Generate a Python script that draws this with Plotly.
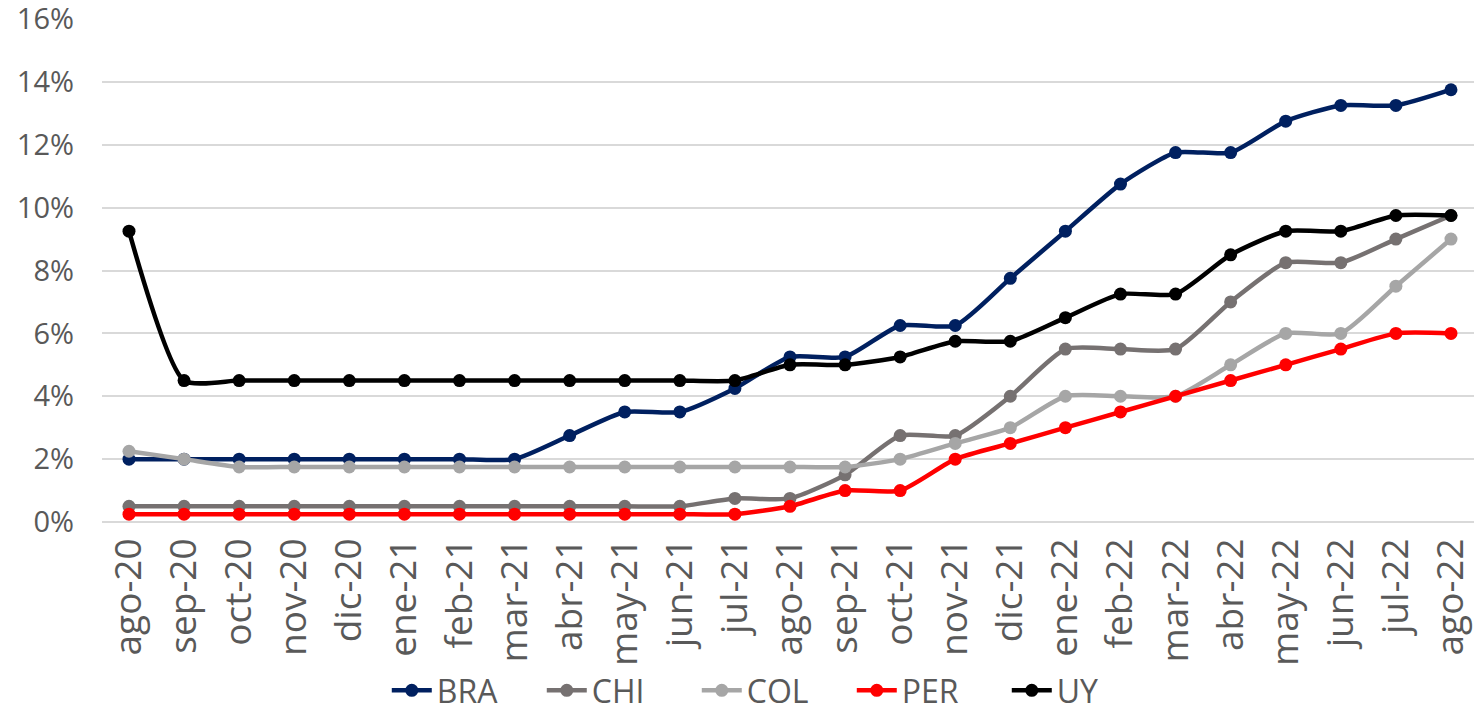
import plotly.graph_objects as go

months = ["ago-20", "sep-20", "oct-20", "nov-20", "dic-20", "ene-21", "feb-21", "mar-21",
          "abr-21", "may-21", "jun-21", "jul-21", "ago-21", "sep-21", "oct-21", "nov-21",
          "dic-21", "ene-22", "feb-22", "mar-22", "abr-22", "may-22", "jun-22", "jul-22", "ago-22"]

bra = [2.0, 2.0, 2.0, 2.0, 2.0, 2.0, 2.0, 2.0, 2.75, 3.5, 3.5, 4.25, 5.25, 5.25, 6.25, 6.25,
       7.75, 9.25, 10.75, 11.75, 11.75, 12.75, 13.25, 13.25, 13.75]
chi = [0.5, 0.5, 0.5, 0.5, 0.5, 0.5, 0.5, 0.5, 0.5, 0.5, 0.5, 0.75, 0.75, 1.5, 2.75, 2.75,
       4.0, 5.5, 5.5, 5.5, 7.0, 8.25, 8.25, 9.0, 9.75]
col = [2.25, 2.0, 1.75, 1.75, 1.75, 1.75, 1.75, 1.75, 1.75, 1.75, 1.75, 1.75, 1.75, 1.75, 2.0, 2.5,
       3.0, 4.0, 4.0, 4.0, 5.0, 6.0, 6.0, 7.5, 9.0]
per = [0.25, 0.25, 0.25, 0.25, 0.25, 0.25, 0.25, 0.25, 0.25, 0.25, 0.25, 0.25, 0.5, 1.0, 1.0, 2.0,
       2.5, 3.0, 3.5, 4.0, 4.5, 5.0, 5.5, 6.0, 6.0]
uy = [9.25, 4.5, 4.5, 4.5, 4.5, 4.5, 4.5, 4.5, 4.5, 4.5, 4.5, 4.5, 5.0, 5.0, 5.25, 5.75,
      5.75, 6.5, 7.25, 7.25, 8.5, 9.25, 9.25, 9.75, 9.75]

y_ticks = [0, 0.02, 0.04, 0.06, 0.08, 0.10, 0.12, 0.14, 0.16]

series = [
    ("BRA", bra, "#002060"),
    ("CHI", chi, "#767171"),
    ("COL", col, "#a6a6a6"),
    ("PER", per, "#ff0000"),
    ("UY", uy, "#000000"),
]

FONT = "Open Sans"
TICK_COLOR = "#595959"

fig = go.Figure()
for name, vals, color in series:
    fig.add_trace(go.Scatter(
        x=months, y=[v / 100 for v in vals], name=name, mode="lines+markers",
        line=dict(color=color, width=4.5, shape="spline", smoothing=0.6),
        marker=dict(color=color, size=13),
    ))

fig.update_layout(
    width=1474, height=718,
    paper_bgcolor="white", plot_bgcolor="white",
    margin=dict(l=102, r=0, t=19, b=196),
    font=dict(family=FONT, color=TICK_COLOR, size=30),
    # legend placed against the container so it does not push the plot margins
    legend=dict(orientation="h", xref="paper", x=0.49, xanchor="center",
                yref="container", y=0, yanchor="bottom",
                font=dict(size=32, color=TICK_COLOR), tracegroupgap=0,
                entrywidth=100, itemwidth=40),
)
fig.update_xaxes(
    type="category", tickangle=-90, tickfont=dict(size=37, color=TICK_COLOR),
    showgrid=False, showline=False, ticks="", range=[-0.49, 24.418], automargin=False,
    ticklabelstandoff=8,
)
fig.update_yaxes(
    range=[0, 0.16], tickvals=y_ticks, tickformat=".0%", tickfont=dict(size=29, color=TICK_COLOR),
    showgrid=True, gridcolor="#d9d9d9", gridwidth=1.5, zeroline=True, zerolinecolor="#d9d9d9",
    zerolinewidth=1.5, ticks="", ticklabelstandoff=27, automargin=False,
    ticklabeloverflow="allow",
)

# drop the default 8px page margin so the figure fills the window exactly
fig.write_html("out.html", config={"displayModeBar": False},
               post_script="document.body.style.margin = '0';")
